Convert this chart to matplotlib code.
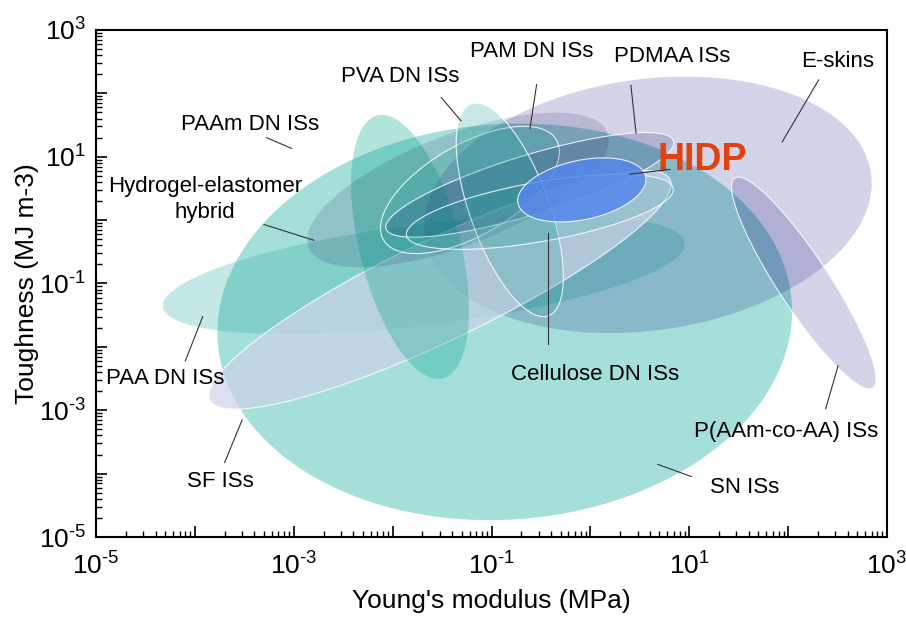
import numpy as np
import matplotlib
matplotlib.use('Agg')
import matplotlib.pyplot as plt
from matplotlib.patches import Polygon
from matplotlib.ticker import LogLocator, FixedLocator, NullFormatter

plt.rcParams['font.family'] = ['Liberation Sans', 'DejaVu Sans']
plt.rcParams['mathtext.fontset'] = 'custom'
plt.rcParams['mathtext.rm'] = 'Liberation Sans'
plt.rcParams['mathtext.it'] = 'Liberation Sans'

# property windows: centre modulus (MPa), centre toughness (MJ m-3),
# semi-axes in decades (long, short) and tilt in degrees (display frame)
names = ['SN ISs', 'PAA DN ISs', 'E-skins', 'SF ISs', 'PAAm DN ISs',
         'Hydrogel-elastomer hybrid', 'P(AAm-co-AA) ISs', 'PAM DN ISs',
         'PDMAA ISs', 'PVA DN ISs', 'Cellulose DN ISs', 'HIDP']
center_E = [0.136, 0.0207, 3.81, 0.0301, 0.0150, 0.0457, 144.0, 0.0605, 0.244, 0.153, 0.308, 0.82]
center_T = [0.0248, 0.137, 1.74, 0.0793, 0.378, 2.99, 0.102, 2.99, 3.59, 1.45, 1.35, 2.99]
semi_long = [2.91, 2.66, 2.28, 2.58, 1.37, 1.62, 1.27, 1.01, 1.52, 1.14, 1.37, 0.66]
semi_short = [2.00, 0.51, 1.27, 0.51, 0.51, 0.56, 0.26, 0.46, 0.30, 0.40, 0.30, 0.30]
tilt = [4, 7, 8, 25.6, 104, 21, -56.7, 30, 17, 110, 10, 12]

# dark tints at low opacity so overlaps darken like a multiply blend
colors = ['#20afa2', '#28aa9f', '#000078', '#cdd3e8', '#00a68d',
          '#14145a', '#000078', '#1e9a93', '#00005a', '#1ea096', '#1ea096', '#5587eb']
alphas = [0.4, 0.27, 0.17, 0.72, 0.3, 0.14, 0.17, 0.22, 0.16, 0.24, 0.2, 0.85]
edges = ['none', 'none', 'none', 'white', 'none', 'none', 'white', 'white',
         'white', 'white', 'white', 'white']

fig = plt.figure(figsize=(9.06, 6.23), dpi=100)
ax = fig.add_axes([0.106, 0.138, 0.873, 0.814])
ax.set_xscale('log')
ax.set_yscale('log')
ax.set_xlim(1e-5, 1e3)
ax.set_ylim(1e-5, 1e3)

# ratio of one y-decade to one x-decade on screen
bb = ax.get_window_extent()
r = (bb.height / 8) / (bb.width / 8)

t = np.linspace(0, 2 * np.pi, 300)
for i in range(len(names)):
    th = np.radians(tilt[i])
    u = semi_long[i] * np.cos(t)
    v = semi_short[i] * np.sin(t)
    dx = u * np.cos(th) - v * np.sin(th)
    dy = (u * np.sin(th) + v * np.cos(th)) / r
    xs = 10 ** (np.log10(center_E[i]) + dx)
    ys = 10 ** (np.log10(center_T[i]) + dy)
    # fill and white outline drawn separately so the outline stays crisp
    ax.add_patch(Polygon(np.column_stack([xs, ys]), closed=True,
                         facecolor=colors[i], alpha=alphas[i],
                         edgecolor='none', zorder=2 + i))
    if edges[i] != 'none':
        ax.add_patch(Polygon(np.column_stack([xs, ys]), closed=True,
                             facecolor='none', edgecolor=edges[i],
                             alpha=0.85, linewidth=0.8, zorder=2 + i))

# labels: text position and leader line (start, end)
labels = [
    ('PAAm DN ISs', (3.6e-4, 31.8), (5.3e-4, 20), (9.5e-4, 13.5)),
    ('PVA DN ISs', (1.19e-2, 182), (3.1e-2, 86), (4.9e-2, 37)),
    ('PAM DN ISs', (0.256, 450), (0.286, 137), (0.245, 28)),
    ('PDMAA ISs', (6.8, 375), (2.57, 134), (2.9, 23.4)),
    ('E-skins', (318, 313), (204, 163), (87, 17)),
    ('Hydrogel-elastomer\nhybrid', (1.26e-4, 2.1), (5.0e-4, 0.85), (1.6e-3, 0.48)),
    ('PAA DN ISs', (5.0e-5, 3.2e-3), (8.0e-5, 6.0e-3), (1.2e-4, 3.0e-2)),
    ('SF ISs', (1.8e-4, 7.4e-5), (2.0e-4, 1.5e-4), (3.0e-4, 7.0e-4)),
    ('Cellulose DN ISs', (1.11, 3.6e-3), (0.37, 1.1e-2), (0.37, 0.62)),
    ('P(AAm-co-AA) ISs', (95, 4.6e-4), (240, 1.06e-3), (320, 5.0e-3)),
    ('SN ISs', (36.5, 6.0e-5), (4.8, 1.4e-4), (10.5, 9.0e-5)),
]
for text, pos, p0, p1 in labels:
    ax.text(pos[0], pos[1], text, fontsize=16, ha='center', va='center',
            linespacing=1.3, zorder=30)
    ax.plot([p0[0], p1[0]], [p0[1], p1[1]], color='#333333', lw=0.8, zorder=30)

ax.text(13.4, 8.9, 'HIDP', fontsize=27, fontweight='bold', color='#e2400f',
        ha='center', va='center', zorder=30)
ax.plot([6.4, 2.5], [6.3, 5.3], color='#333333', lw=0.8, zorder=30)

decades = np.arange(-5, 4)
ax.xaxis.set_major_locator(FixedLocator(10.0 ** decades))
ax.yaxis.set_major_locator(FixedLocator(10.0 ** decades))
ax.xaxis.set_minor_locator(LogLocator(base=10, subs=np.arange(2, 10), numticks=20))
ax.yaxis.set_minor_locator(LogLocator(base=10, subs=np.arange(2, 10), numticks=20))
ax.xaxis.set_minor_formatter(NullFormatter())
ax.yaxis.set_minor_formatter(NullFormatter())
tick_labels = ['$10^{\\text{%d}}$' % d if d % 2 else '' for d in decades]
ax.set_xticklabels(tick_labels)
ax.set_yticklabels(tick_labels)
ax.tick_params(which='major', direction='in', length=8, width=1.2, labelsize=19)
ax.tick_params(axis='x', which='major', pad=11)
ax.tick_params(axis='y', which='major', pad=7)
ax.tick_params(which='minor', direction='in', length=4, width=1.0)
for s in ax.spines.values():
    s.set_linewidth(1.5)

ax.set_xlabel("Young's modulus (MPa)", fontsize=19)
ax.set_ylabel('Toughness (MJ m-3)', fontsize=19)
ax.xaxis.set_label_coords(0.5, -0.103)
ax.yaxis.set_label_coords(-0.072, 0.5)

fig.savefig('out.png', dpi=100)
